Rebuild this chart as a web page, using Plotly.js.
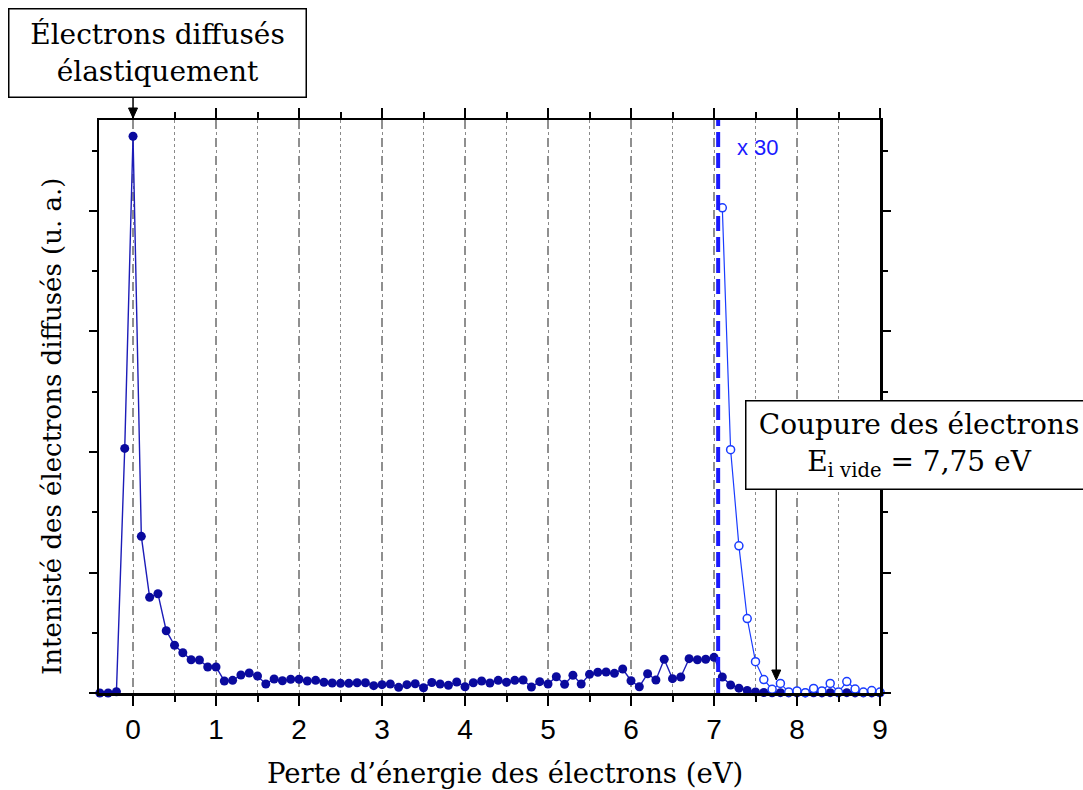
<!DOCTYPE html>
<html>
<head>
<meta charset="utf-8">
<script src="https://cdn.plot.ly/plotly-3.0.1.min.js"></script>
<style>html,body{margin:0;padding:0;background:#fff;}</style>
</head>
<body>
<div id="chart" style="width:1083px;height:790px;"></div>
<script>
// Energy loss (eV) for the measured spectrum
const energyLoss = [-0.4,-0.3,-0.2,-0.1,0.0,0.1,0.2,0.3,0.4,0.5,0.6,0.7,0.8,0.9,1.0,1.1,1.2,1.3,1.4,1.5,1.6,1.7,1.8,1.9,2.0,2.1,2.2,2.3,2.4,2.5,2.6,2.7,2.8,2.9,3.0,3.1,3.2,3.3,3.4,3.5,3.6,3.7,3.8,3.9,4.0,4.1,4.2,4.3,4.4,4.5,4.6,4.7,4.8,4.9,5.0,5.1,5.2,5.3,5.4,5.5,5.6,5.7,5.8,5.9,6.0,6.1,6.2,6.3,6.4,6.5,6.6,6.7,6.8,6.9,7.0,7.1,7.2,7.3,7.4,7.5,7.6,7.7,7.8,7.9,8.0,8.1,8.2,8.3,8.4,8.5,8.6,8.7,8.8,8.9,9.0];
// Scattered electron intensity (arbitrary units)
const intensity = [0.0,0.0,0.01,2.03,4.62,1.30,0.794,0.824,0.517,0.396,0.334,0.276,0.274,0.216,0.216,0.100,0.105,0.149,0.166,0.141,0.075,0.116,0.102,0.114,0.114,0.100,0.105,0.089,0.083,0.080,0.080,0.085,0.085,0.061,0.069,0.075,0.047,0.069,0.077,0.044,0.087,0.075,0.064,0.091,0.052,0.085,0.100,0.083,0.105,0.089,0.105,0.108,0.050,0.094,0.075,0.135,0.072,0.147,0.075,0.155,0.172,0.174,0.163,0.199,0.102,0.052,0.160,0.108,0.280,0.119,0.133,0.285,0.276,0.280,0.296,0.133,0.066,0.040,0.021,0.009,0.004,0.002,0.003,0.001,0.001,0.001,0.002,0.001,0.003,0.001,0.003,0.001,0.001,0.001,0.001];
// Zoomed tail (x 30)
const energyLossZoom = [7.1,7.2,7.3,7.4,7.5,7.6,7.7,7.8,7.9,8.0,8.1,8.2,8.3,8.4,8.5,8.6,8.7,8.8,8.9,9.0];
const intensityZoom = [4.026,2.019,1.221,0.618,0.260,0.111,0.031,0.079,0.009,0.017,0.003,0.038,0.017,0.079,0.008,0.095,0.033,0.008,0.020,0.008];

const xTickVals = [0,1,2,3,4,5,6,7,8,9];
const xTickText = ['0','1','2','3','4','5','6','7','8','9'];

const xTitle = 'Perte d’énergie des électrons (eV)';
const yTitle = 'Intenisté des électrons diffusés (u. a.)';
const elasticLabel = 'Électrons diffusés<br>élastiquement';
const cutoffLabel = 'Coupure des électrons<br>E<sub>i vide</sub> = 7,75 eV';
const zoomLabel = 'x 30';

const elasticPeakX = 0;
const cutoffX = 7.75;
const zoomStartX = 7.05;

const serif = 'DejaVu Serif';
const sans = 'Liberation Sans, Arial, sans-serif';

const traces = [
  {
    x: energyLoss, y: intensity, type: 'scatter', mode: 'lines+markers',
    line: {color: '#1c1cb8', width: 1.4},
    marker: {color: '#0a0a9e', size: 9},
    cliponaxis: false, showlegend: false, hoverinfo: 'x+y'
  },
  {
    x: energyLossZoom, y: intensityZoom, type: 'scatter', mode: 'lines+markers',
    line: {color: '#1a3cff', width: 1.2},
    marker: {color: '#ffffff', size: 8, line: {color: '#1a3cff', width: 1.5}},
    cliponaxis: false, showlegend: false, hoverinfo: 'x+y'
  }
];

// arrow helper: vertical arrow anchored at (x, yAnchor) with pixel offsets (positive = up)
function arrowShapes(x, yref, yAnchor, tipPx, tailPx) {
  return [
    {type: 'line', xref: 'x', yref: yref, ysizemode: 'pixel', yanchor: yAnchor,
     x0: x, x1: x, y0: tipPx + 6, y1: tailPx, line: {color: '#000', width: 1.5}},
    {type: 'path', xref: 'x', yref: yref, xsizemode: 'pixel', xanchor: x, ysizemode: 'pixel', yanchor: yAnchor,
     path: 'M-4.5,' + (tipPx + 10) + ' L4.5,' + (tipPx + 10) + ' L0,' + tipPx + ' Z',
     fillcolor: '#000', line: {color: '#000', width: 1}}
  ];
}

const layout = {
  width: 1083, height: 790,
  margin: {l: 99, r: 203, t: 120, b: 97, pad: 0},
  paper_bgcolor: '#ffffff', plot_bgcolor: '#ffffff',
  showlegend: false,
  xaxis: {
    range: [-0.41, 9.0], tickmode: 'array', tickvals: xTickVals, ticktext: xTickText,
    ticks: 'outside', ticklen: 10, tickwidth: 2.5, tickcolor: '#000',
    showline: true, linewidth: 2.5, linecolor: '#000', mirror: 'allticks',
    showgrid: true, gridcolor: '#8f8f8f', gridwidth: 1.3, griddash: 'dash',
    zeroline: false,
    tickfont: {family: sans, size: 28, color: '#000'},
    minor: {dtick: 0.5, tick0: 0, ticks: 'outside', ticklen: 6, tickwidth: 2, tickcolor: '#000',
            showgrid: true, gridcolor: '#8a8a8a', gridwidth: 1, griddash: 'dot'}
  },
  yaxis: {
    range: [0, 4.755], dtick: 1, tick0: 0,
    ticks: 'outside', ticklen: 8, tickwidth: 2, tickcolor: '#000',
    showticklabels: false,
    showline: true, linewidth: 2.5, linecolor: '#000', mirror: 'allticks',
    showgrid: false, zeroline: false,
    minor: {dtick: 0.5, tick0: 0, ticks: 'outside', ticklen: 5, tickwidth: 2, tickcolor: '#000', showgrid: false}
  },
  shapes: [
    {type: 'line', xref: 'x', yref: 'paper', x0: zoomStartX, x1: zoomStartX, y0: 0, y1: 1,
     line: {color: '#1a1aff', width: 4, dash: '15px,6px'}}
  ].concat(arrowShapes(elasticPeakX, 'paper', 1, 2, 22))
   .concat(arrowShapes(cutoffX, 'y', 0, 13, 203)),
  annotations: [
    // axis titles
    {xref: 'paper', yref: 'paper', x: 0.52, y: -0.1396, xanchor: 'center', yanchor: 'middle',
     text: xTitle, showarrow: false, font: {family: serif, size: 27.5, color: '#000'}},
    {xref: 'paper', yref: 'paper', x: -0.0602, y: 0.466, xanchor: 'center', yanchor: 'middle',
     text: yTitle, textangle: -90, showarrow: false, font: {family: serif, size: 26, color: '#000'}},
    // boxes
    {xref: 'paper', yref: 'paper', x: 0.0749, y: 1.117, xanchor: 'center', yanchor: 'middle',
     text: elasticLabel, showarrow: false,
     font: {family: serif, size: 28, color: '#000'},
     bordercolor: '#000', borderwidth: 1.5, borderpad: 2, bgcolor: '#fff', width: 292, height: 83},
    {xref: 'paper', yref: 'paper', x: 1.05, y: 0.4328, xanchor: 'center', yanchor: 'middle',
     text: cutoffLabel, showarrow: false,
     font: {family: serif, size: 28, color: '#000'},
     bordercolor: '#000', borderwidth: 1.5, borderpad: 2, bgcolor: '#fff', width: 341, height: 83},
    {xref: 'x', yref: 'y', x: 7.25, y: 4.53, xanchor: 'left', yanchor: 'middle', text: zoomLabel, showarrow: false,
     font: {family: sans, size: 22, color: '#1a1aff'}}
  ]
};

Plotly.newPlot('chart', traces, layout, {displayModeBar: false, staticPlot: true});
</script>
</body>
</html>
